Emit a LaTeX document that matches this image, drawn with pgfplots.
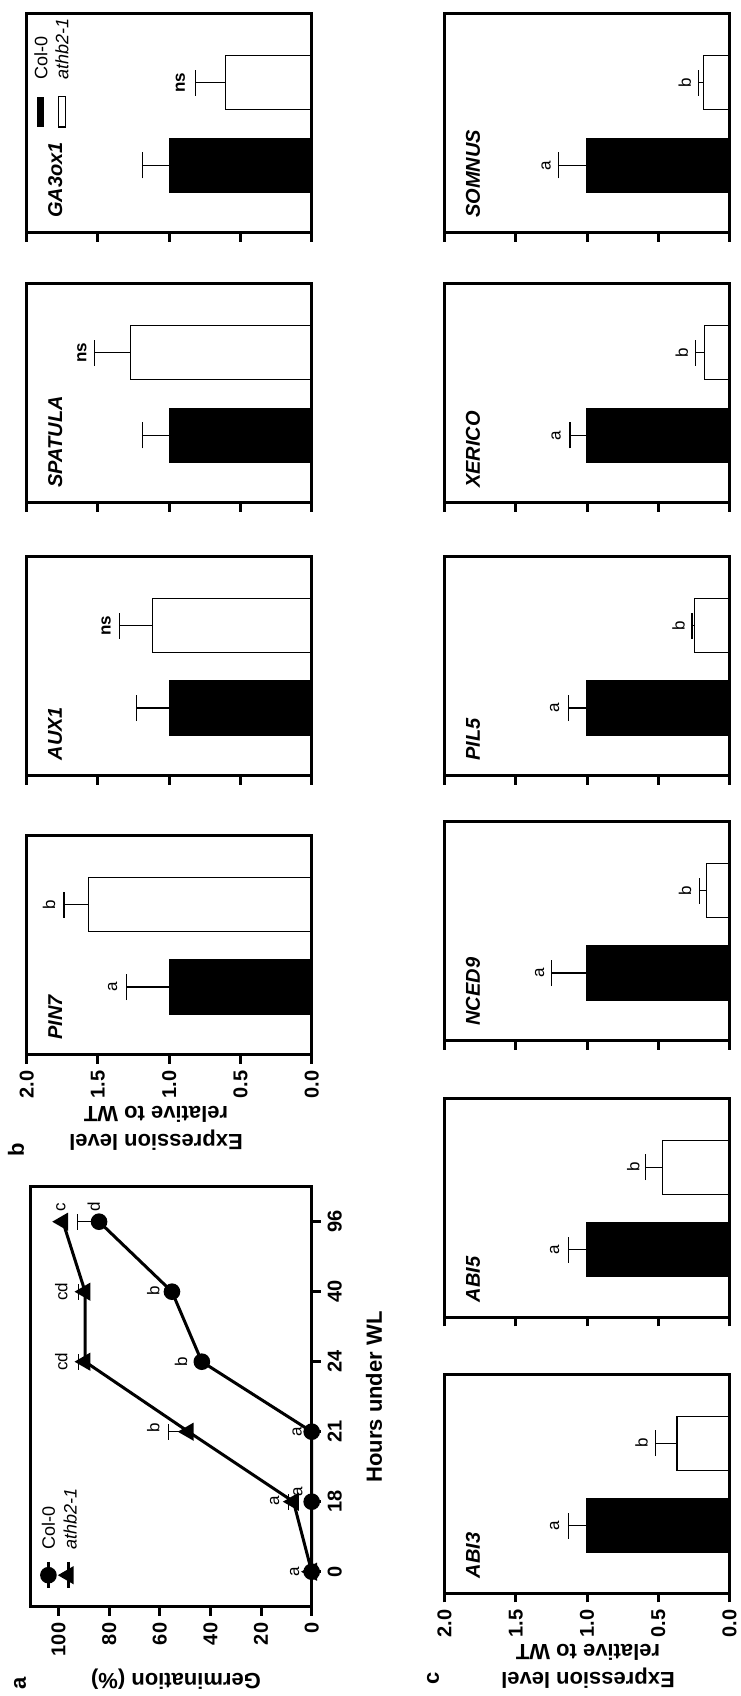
\documentclass[border=0pt]{standalone}
\usepackage{fontspec}
\setmainfont{Liberation Sans}
\usepackage{pgfplots}
\pgfplotsset{compat=1.18}

\pgfplotsset{
  common/.style={
    scale only axis, clip=false, axis on top, anchor=south west,
    axis line style={line width=1.5pt},
    tick style={line width=1.5pt, black},
    major tick length=4.5pt,
    tick align=outside,
    tick label style={font=\bfseries\fontsize{10}{10}\selectfont},
    /pgf/number format/assume math mode=true,
  },
  barax/.style={common,
    width=142.5pt, height=109.5pt, xmin=0, xmax=2, x dir=reverse,
    ymin=0.18, ymax=2.835, ytick=\empty, xtick={0,0.5,1,1.5,2},
    xtick pos=bottom, xticklabels={},
  },
  barlabels/.style={xticklabels={0.0,0.5,1.0,1.5,2.0},
    xticklabel style={rotate=90, anchor=east}},
  barst/.style={xbar, bar width=27pt, bar shift=0pt, draw=black, line width=0.6pt,
    error bars/x dir=plus, error bars/x explicit,
    error bars/error bar style={line width=0.6pt, black},
    error bars/error mark options={line width=0.6pt, black, mark size=6.5pt, rotate=90}},
  errst/.style={black, only marks, mark=none,
    error bars/x dir=plus, error bars/x explicit,
    error bars/error bar style={line width=0.6pt, black},
    error bars/error mark options={line width=0.6pt, black, mark size=4pt, rotate=90}},
}
\tikzset{
  gene/.style={rotate=90, anchor=west, inner sep=0pt, font=\bfseries\itshape\fontsize{10}{10}\selectfont},
  sig/.style={rotate=90, anchor=south, inner sep=1.2pt, font=\fontsize{8.5}{8.5}\selectfont},
  sigb/.style={rotate=90, anchor=south, inner sep=1.2pt, font=\bfseries\fontsize{8.5}{8.5}\selectfont},
  leg/.style={rotate=90, anchor=west, inner sep=0pt, font=\fontsize{9}{9}\selectfont},
}

\begin{document}
\begin{tikzpicture}
\useasboundingbox (0pt,0pt) rectangle (370pt,848pt);

% ---------------- panel b ----------------
\begin{axis}[barax, at={(13.35pt,731.5pt)}]
\addplot[fill=black, barst] coordinates {(1.0,1) +- (0.19,0)};
\addplot[fill=white, barst] coordinates {(0.603,2) +- (0.215,0)};
\node[gene] at (axis cs:1.8,0.36) {GA3ox1};
\node[sigb] at (axis cs:0.87,2) {ns};
\fill[black] (axis cs:1.925,1.465) rectangle (axis cs:1.88,1.83);
\draw[line width=0.6pt, fill=white] (axis cs:1.775,1.465) rectangle (axis cs:1.73,1.83);
\node[leg] at (axis cs:1.90,2.03) {Col-0};
\node[leg, font=\itshape\fontsize{9}{9}\selectfont] at (axis cs:1.752,2.03) {athb2-1};
\end{axis}

\begin{axis}[barax, at={(13.35pt,596.5pt)}]
\addplot[fill=black, barst] coordinates {(1.0,1) +- (0.19,0)};
\addplot[fill=white, barst] coordinates {(1.27,2) +- (0.255,0)};
\node[gene] at (axis cs:1.8,0.36) {SPATULA};
\node[sigb] at (axis cs:1.56,2) {ns};
\end{axis}

\begin{axis}[barax, at={(13.35pt,460.15pt)}]
\addplot[fill=black, barst] coordinates {(1.0,1) +- (0.23,0)};
\addplot[fill=white, barst] coordinates {(1.116,2) +- (0.23,0)};
\node[gene] at (axis cs:1.8,0.36) {AUX1};
\node[sigb] at (axis cs:1.39,2) {ns};
\end{axis}

\begin{axis}[barax, barlabels, at={(13.35pt,320.65pt)}]
\addplot[fill=black, barst] coordinates {(1.0,1) +- (0.30,0)};
\addplot[fill=white, barst] coordinates {(1.568,2) +- (0.17,0)};
\node[gene] at (axis cs:1.8,0.36) {PIN7};
\node[sig] at (axis cs:1.345,1) {a};
\node[sig] at (axis cs:1.78,2) {b};
\end{axis}

% ---------------- panel c ----------------
\begin{axis}[barax, at={(222.25pt,731.5pt)}]
\addplot[fill=black, barst] coordinates {(1.0,1) +- (0.2,0)};
\addplot[fill=white, barst] coordinates {(0.18,2) +- (0.035,0)};
\node[gene] at (axis cs:1.8,0.36) {SOMNUS};
\node[sig] at (axis cs:1.235,1) {a};
\node[sig] at (axis cs:0.25,2) {b};
\end{axis}

\begin{axis}[barax, at={(222.25pt,596.5pt)}]
\addplot[fill=black, barst] coordinates {(1.0,1) +- (0.12,0)};
\addplot[fill=white, barst] coordinates {(0.178,2) +- (0.06,0)};
\node[gene] at (axis cs:1.8,0.36) {XERICO};
\node[sig] at (axis cs:1.164,1) {a};
\node[sig] at (axis cs:0.272,2) {b};
\end{axis}

\begin{axis}[barax, at={(222.25pt,460.15pt)}]
\addplot[fill=black, barst] coordinates {(1.0,1) +- (0.13,0)};
\addplot[fill=white, barst] coordinates {(0.243,2) +- (0.02,0)};
\node[gene] at (axis cs:1.8,0.36) {PIL5};
\node[sig] at (axis cs:1.175,1) {a};
\node[sig] at (axis cs:0.295,2) {b};
\end{axis}

\begin{axis}[barax, at={(222.25pt,327.65pt)}]
\addplot[fill=black, barst] coordinates {(1.0,1) +- (0.25,0)};
\addplot[fill=white, barst] coordinates {(0.161,2) +- (0.05,0)};
\node[gene] at (axis cs:1.8,0.36) {NCED9};
\node[sig] at (axis cs:1.28,1) {a};
\node[sig] at (axis cs:0.248,2) {b};
\end{axis}

\begin{axis}[barax, at={(222.25pt,189.35pt)}]
\addplot[fill=black, barst] coordinates {(1.0,1) +- (0.13,0)};
\addplot[fill=white, barst] coordinates {(0.471,2) +- (0.12,0)};
\node[gene] at (axis cs:1.8,0.36) {ABI5};
\node[sig] at (axis cs:1.175,1) {a};
\node[sig] at (axis cs:0.612,2) {b};
\end{axis}

\begin{axis}[barax, barlabels, at={(222.25pt,51.35pt)}]
\addplot[fill=black, barst] coordinates {(1.0,1) +- (0.13,0)};
\addplot[fill=white, barst] coordinates {(0.368,2) +- (0.15,0)};
\node[gene] at (axis cs:1.8,0.36) {ABI3};
\node[sig] at (axis cs:1.175,1) {a};
\node[sig] at (axis cs:0.553,2) {b};
\end{axis}

% ---------------- panel a ----------------
\begin{axis}[common, at={(15.35pt,44.65pt)}, width=140.5pt, height=210pt,
  xmin=0, xmax=111, x dir=reverse, ymin=-0.5, ymax=5.5,
  xtick={0,20,40,60,80,100}, ytick={0,1,2,3,4,5}, yticklabels={0,18,21,24,40,96},
  xtick pos=bottom, ytick pos=right, yticklabel pos=right,
  xticklabel style={rotate=90, anchor=east},
  yticklabel style={rotate=90, anchor=north},
]
\addplot[errst, forget plot] coordinates {(84,5) +- (8.5,0)};
\addplot[errst, forget plot] coordinates {(7.2,1) +- (2,0) (48.7,2) +- (7.8,0) (89.5,3) +- (2.6,0) (89.5,4) +- (2.6,0)};
\addplot[black, line width=1.5pt, mark=*, mark size=3.4pt, mark options={solid, fill=black}]
  coordinates {(0,0) (0,1) (0,2) (43.4,3) (55.2,4) (84,5)};
\addplot[black, line width=1.5pt, mark=triangle*, mark size=3.8pt, mark options={solid, fill=black, rotate=90}]
  coordinates {(0,0) (7.2,1) (48.7,2) (89.5,3) (89.5,4) (98.3,5)};
% legend
\addplot[black, line width=1.5pt, mark=*, mark size=3.4pt, mark indices={2}, forget plot]
  coordinates {(104,0.14) (104,-0.05) (104,-0.23)};
\addplot[black, line width=1.5pt, mark=triangle*, mark size=3.8pt, mark options={rotate=90}, mark indices={2}, forget plot]
  coordinates {(96.1,0.14) (96.1,-0.05) (96.1,-0.23)};
\node[leg] at (axis cs:104,0.31) {Col-0};
\node[leg, font=\itshape\fontsize{9}{9}\selectfont] at (axis cs:95.4,0.31) {athb2-1};
% letters
\node[sig] at (axis cs:3.8,0) {a};
\node[sig] at (axis cs:2.5,1.14) {a};
\node[sig] at (axis cs:11.7,1.02) {a};
\node[sig] at (axis cs:2.8,2) {a};
\node[sig] at (axis cs:59,2.05) {b};
\node[sig] at (axis cs:48,3) {b};
\node[sig] at (axis cs:95.3,3) {cd};
\node[sig] at (axis cs:59,4.02) {b};
\node[sig] at (axis cs:95.3,4) {cd};
\node[sig] at (axis cs:82.5,5.21) {d};
\node[sig] at (axis cs:96.1,5.21) {c};
\end{axis}

% ---------------- labels ----------------
\node[rotate=180, font=\bfseries\fontsize{11}{11}\selectfont] at (88pt,8.5pt) {Germination (\%)};
\node[rotate=90, font=\bfseries\fontsize{11}{11}\selectfont] at (187pt,149.5pt) {Hours under WL};
\node[rotate=180, align=center, font=\bfseries\fontsize{11}{14}\selectfont] at (78pt,283.75pt) {Expression level\\relative to WT};
\node[rotate=180, align=center, font=\bfseries\fontsize{11}{14}\selectfont] at (294pt,14.75pt) {Expression level\\relative to WT};
\node[rotate=90, font=\bfseries\fontsize{11}{11}\selectfont] at (10pt,6.5pt) {a};
\node[rotate=90, font=\bfseries\fontsize{11}{11}\selectfont] at (8pt,273pt) {b};
\node[rotate=90, font=\bfseries\fontsize{11}{11}\selectfont] at (216.5pt,9pt) {c};
\end{tikzpicture}
\end{document}
